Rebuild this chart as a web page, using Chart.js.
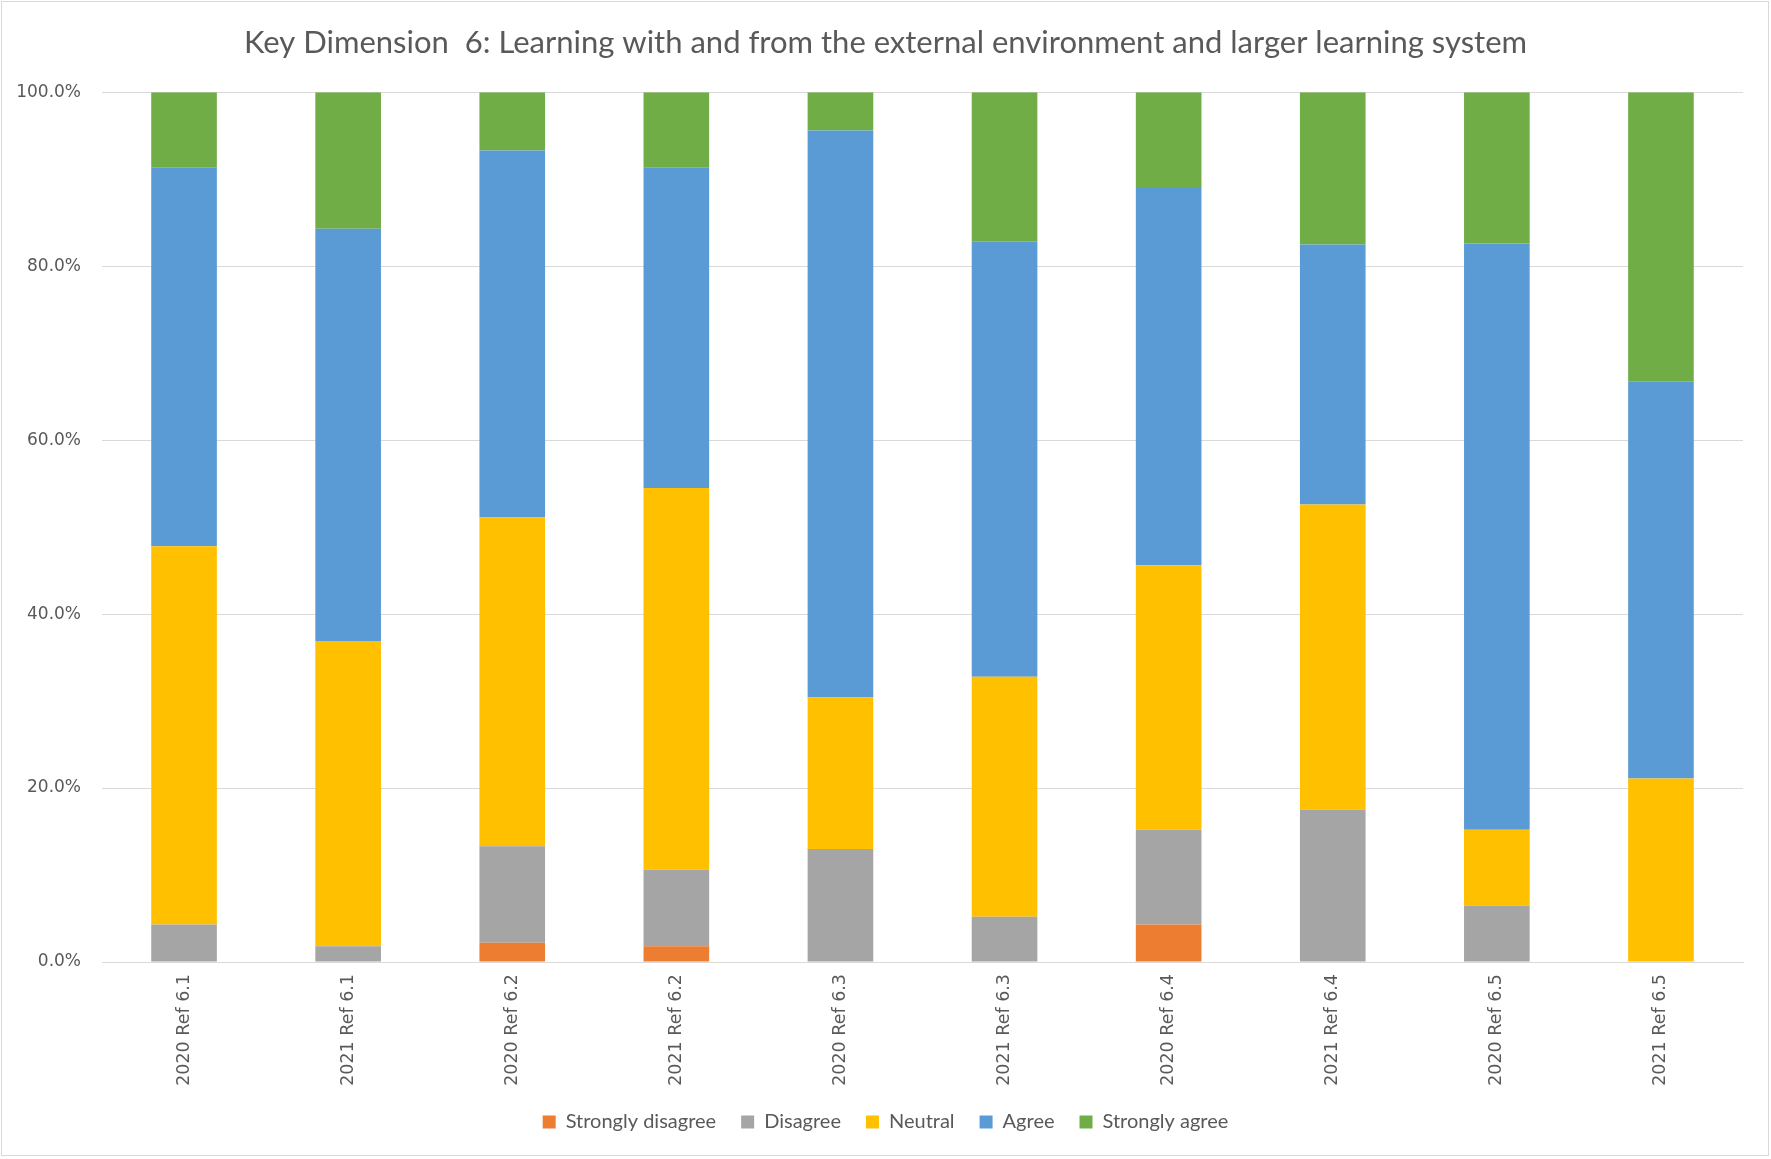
<!DOCTYPE html>
<html>
<head>
<meta charset="utf-8">
<title>Key Dimension 6</title>
<script src="https://cdn.jsdelivr.net/npm/chart.js@4"></script>
<style>
  html, body { margin: 0; padding: 0; background: #fff; }
  canvas { display: block; }
</style>
</head>
<body>
<canvas id="kd6Chart" width="1771" height="1159"></canvas>
<script>
// Survey responses per reference item, as share of respondents (%)
const categories = [
  "2020 Ref 6.1", "2021 Ref 6.1", "2020 Ref 6.2", "2021 Ref 6.2", "2020 Ref 6.3",
  "2021 Ref 6.3", "2020 Ref 6.4", "2021 Ref 6.4", "2020 Ref 6.5", "2021 Ref 6.5"
];
const stronglyDisagree = [0, 0, 2.2, 1.8, 0, 0, 4.3, 0, 0, 0];
const disagree = [4.3, 1.8, 11.1, 8.8, 13.0, 5.2, 10.9, 17.5, 6.5, 0];
const neutral = [43.5, 35.1, 37.8, 43.9, 17.4, 27.6, 30.4, 35.1, 8.7, 21.1];
const agree = [43.5, 47.4, 42.2, 36.8, 65.2, 50.0, 43.5, 29.9, 67.4, 45.6];
const stronglyAgree = [8.7, 15.7, 6.7, 8.7, 4.4, 17.2, 10.9, 17.5, 17.4, 33.3];
const yTicks = [0, 20, 40, 60, 80, 100];

const colors = {
  orange: "#ed7d31",
  gray: "#a5a5a5",
  yellow: "#ffc000",
  blue: "#5b9bd5",
  green: "#70ad47",
  text: "#595959",
  grid: "#d9d9d9",
};

// white background plus thin frame around the whole chart
const framePlugin = {
  id: "frame",
  beforeDraw(chart) {
    const ctx = chart.ctx;
    ctx.save();
    ctx.fillStyle = "#fff";
    ctx.fillRect(0, 0, chart.width, chart.height);
    ctx.strokeStyle = colors.grid;
    ctx.lineWidth = 1;
    ctx.strokeRect(1.5, 1.5, chart.width - 4, chart.height - 5);
    ctx.restore();
  },
};

function series(label, data, color) {
  return {
    label: label,
    data: data,
    backgroundColor: color,
    borderWidth: 0,
    barPercentage: 0.4,
    categoryPercentage: 1.0,
  };
}

new Chart(document.getElementById("kd6Chart"), {
  type: "bar",
  data: {
    labels: categories,
    datasets: [
      series("Strongly disagree", stronglyDisagree, colors.orange),
      series("Disagree", disagree, colors.gray),
      series("Neutral", neutral, colors.yellow),
      series("Agree", agree, colors.blue),
      series("Strongly agree", stronglyAgree, colors.green),
    ],
  },
  options: {
    responsive: false,
    animation: false,
    layout: {
      padding: { left: 0, right: 0, top: 0, bottom: 17 },
    },
    scales: {
      x: {
        stacked: true,
        grid: { display: false, drawTicks: false },
        border: { display: true, color: colors.grid },
        ticks: {
          minRotation: 90,
          maxRotation: 90,
          padding: 12,
          color: colors.text,
          font: { family: "'DejaVu Sans', sans-serif", size: 17.5 },
        },
        afterFit(scale) {
          scale.height = 125;
        },
      },
      y: {
        stacked: true,
        min: 0,
        max: 100,
        afterBuildTicks(scale) {
          scale.ticks = yTicks.map((v) => ({ value: v }));
        },
        grid: { color: colors.grid, drawTicks: false },
        border: { display: false },
        ticks: {
          padding: 21,
          color: colors.text,
          font: { family: "'DejaVu Sans', sans-serif", size: 17 },
          callback: (v) => v.toFixed(1) + "%",
        },
        afterFit(scale) {
          scale.width = 102;
        },
      },
      // empty spacer on the right so title and legend stay centred on the canvas
      spacer: {
        type: "linear",
        position: "right",
        grid: { display: false, drawTicks: false },
        border: { display: false },
        ticks: { display: false },
        afterFit(scale) {
          scale.width = 28;
        },
      },
    },
    plugins: {
      title: {
        display: true,
        text: "Key Dimension  6: Learning with and from the external environment and larger learning system",
        color: colors.text,
        font: { family: "Lato, sans-serif", size: 31, weight: "normal" },
        padding: { top: 24, bottom: 31 },
      },
      legend: {
        position: "bottom",
        labels: {
          boxWidth: 13,
          boxHeight: 13,
          padding: 25,
          color: colors.text,
          font: { family: "Lato, sans-serif", size: 20 },
        },
      },
      tooltip: { enabled: false },
    },
  },
  plugins: [framePlugin],
});
</script>
</body>
</html>
